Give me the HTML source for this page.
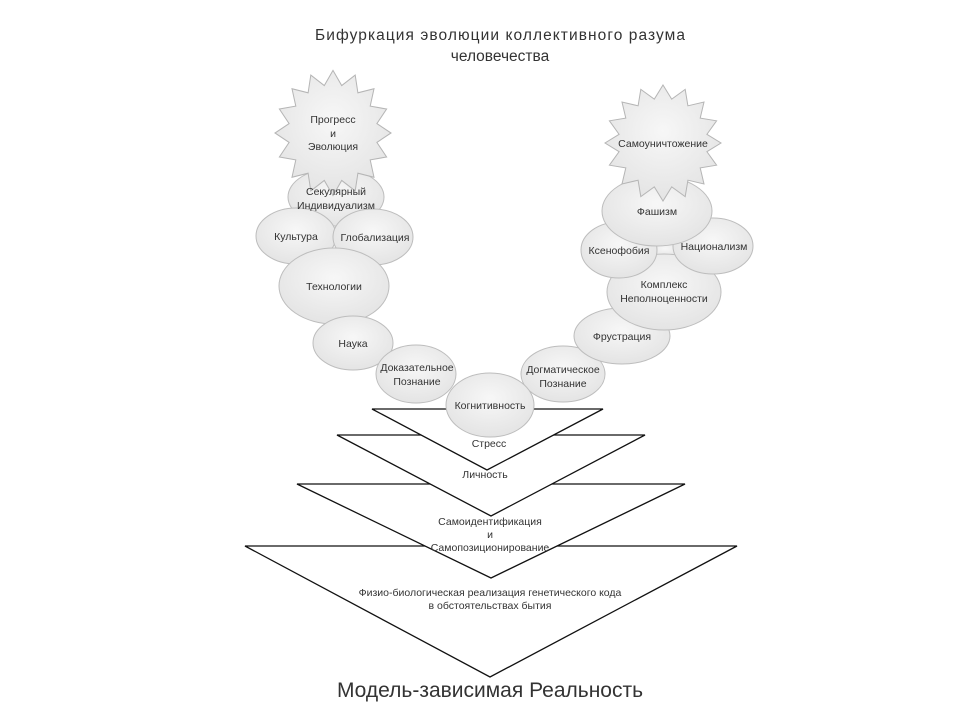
<!DOCTYPE html>
<html><head><meta charset="utf-8"><style>
html,body{margin:0;padding:0;background:#fff;}
svg{display:block;}
text{font-family:"Liberation Sans","DejaVu Sans",sans-serif;fill:#333;}
</style></head><body>
<svg width="960" height="720" viewBox="0 0 960 720" xmlns="http://www.w3.org/2000/svg">
<defs>
<radialGradient id="g" cx="50%" cy="40%" r="60%">
<stop offset="0" stop-color="#f7f7f7"/><stop offset="1" stop-color="#e4e4e4"/>
</radialGradient>
<polygon id="star" points="0,-58 8.7,-43.9 22.2,-53.6 24.9,-37.2 41,-41 37.2,-24.9 53.6,-22.2 43.9,-8.7 58,0 43.9,8.7 53.6,22.2 37.2,24.9 41,41 24.9,37.2 22.2,53.6 8.7,43.9 0,58 -8.7,43.9 -22.2,53.6 -24.9,37.2 -41,41 -37.2,24.9 -53.6,22.2 -43.9,8.7 -58,0 -43.9,-8.7 -53.6,-22.2 -37.2,-24.9 -41,-41 -24.9,-37.2 -22.2,-53.6 -8.7,-43.9" fill="url(#g)" stroke="#b5b5b5" stroke-width="1"/>
</defs>
<text x="500" y="40" font-size="15.5" text-anchor="middle" textLength="370">Бифуркация эволюции коллективного разума</text>
<text x="500" y="61" font-size="15.5" text-anchor="middle">человечества</text>

<g fill="#fff" stroke="#111" stroke-width="1.3">
<polygon points="245,546 737,546 490,677"/>
<polygon points="297,484 685,484 491,578"/>
<polygon points="337,435 645,435 491,516"/>
<polygon points="372,409 603,409 487,470"/>
</g>

<g fill="url(#g)" stroke="#bdbdbd" stroke-width="1">
<ellipse cx="336" cy="197" rx="48" ry="29"/>
<ellipse cx="296" cy="236" rx="40" ry="28"/>
<ellipse cx="373" cy="237" rx="40" ry="28"/>
<ellipse cx="334" cy="286" rx="55" ry="38"/>
<ellipse cx="353" cy="343" rx="40" ry="27"/>
<ellipse cx="416" cy="374" rx="40" ry="29"/>
<ellipse cx="563" cy="374" rx="42" ry="28"/>
<ellipse cx="622" cy="336" rx="48" ry="28"/>
<rect x="650" y="243" width="30" height="14"/>
<ellipse cx="664" cy="292" rx="57" ry="38"/>
<ellipse cx="619" cy="250" rx="38" ry="28"/>
<ellipse cx="713" cy="246" rx="40" ry="28"/>
<ellipse cx="657" cy="211" rx="55" ry="35"/>
<ellipse cx="490" cy="405" rx="44" ry="32"/>
</g>
<use href="#star" transform="translate(333,133) scale(1,1.08)"/>
<use href="#star" transform="translate(663,143) scale(1,1)"/>

<g font-size="10.5" text-anchor="middle">
<text x="333" y="123">Прогресс</text>
<text x="333" y="137">и</text>
<text x="333" y="150">Эволюция</text>
<text x="663" y="147">Самоуничтожение</text>
<text x="336" y="195">Секулярный</text>
<text x="336" y="209">Индивидуализм</text>
<text x="296" y="240">Культура</text>
<text x="375" y="241">Глобализация</text>
<text x="334" y="290">Технологии</text>
<text x="353" y="347">Наука</text>
<text x="417" y="371">Доказательное</text>
<text x="417" y="385">Познание</text>
<text x="490" y="409">Когнитивность</text>
<text x="563" y="373">Догматическое</text>
<text x="563" y="387">Познание</text>
<text x="622" y="340">Фрустрация</text>
<text x="664" y="288">Комплекс</text>
<text x="664" y="302">Неполноценности</text>
<text x="619" y="254">Ксенофобия</text>
<text x="714" y="250">Национализм</text>
<text x="657" y="215">Фашизм</text>
<text x="489" y="447">Стресс</text>
<text x="485" y="478">Личность</text>
<text x="490" y="525">Самоидентификация</text>
<text x="490" y="538">и</text>
<text x="490" y="551">Самопозиционирование</text>
<text x="490" y="596">Физио-биологическая реализация генетического кода</text>
<text x="490" y="609">в обстоятельствах бытия</text>
</g>
<text x="490" y="697" font-size="21" text-anchor="middle">Модель-зависимая Реальность</text>
</svg>
</body></html>
